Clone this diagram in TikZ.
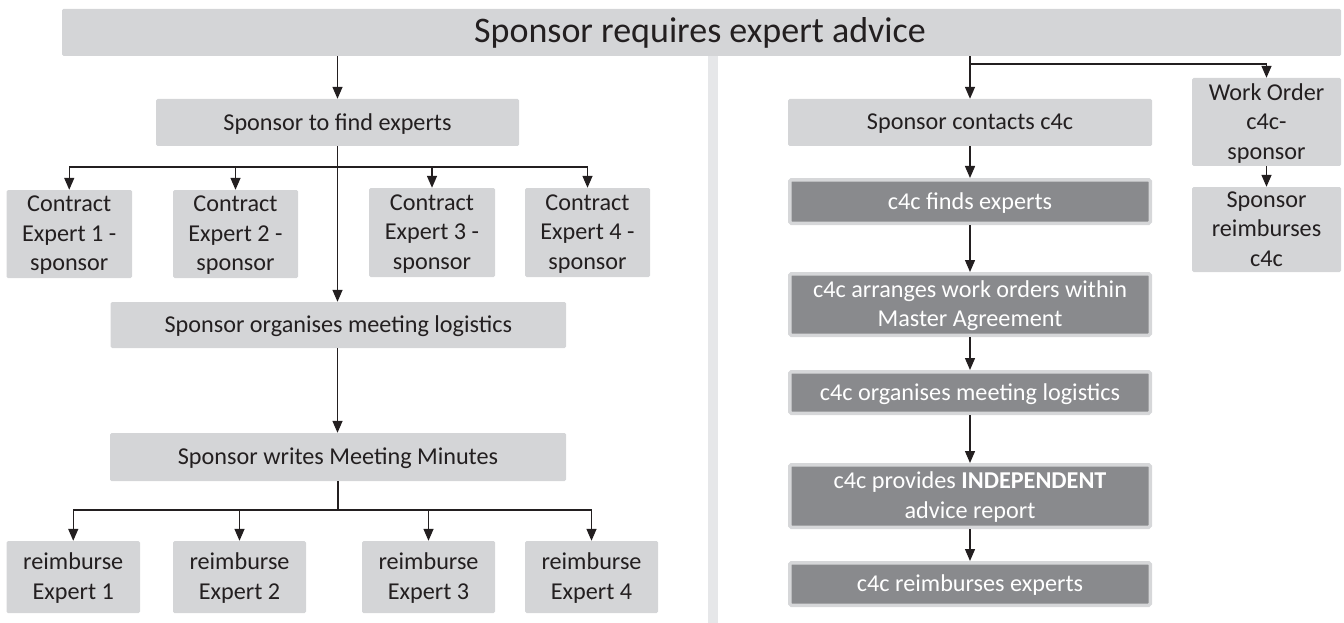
\documentclass[tikz,border=0pt]{standalone}
\usepackage{fontspec}
\setmainfont{Carlito}
\usetikzlibrary{arrows.meta}
\definecolor{boxgray}{HTML}{D4D5D7}
\definecolor{dkbox}{HTML}{898A8D}
\definecolor{lnbox}{HTML}{D6D7D9}
\definecolor{sepgray}{HTML}{E6E7E9}
\definecolor{ink}{HTML}{231F20}
\tikzset{
  basefont/.style={font=\fontsize{24.2}{29.5}\selectfont},
  lbox/.style={fill=boxgray, rounded corners=1.5pt, align=center, text=ink, inner sep=0pt, text depth=1.5pt, basefont},
  dbox/.style={fill=dkbox, draw=lnbox, line width=3.5pt, rounded corners=1.5pt, align=center, text=white, inner sep=0pt, text depth=1.5pt, basefont},
  arr/.style={draw=ink, line width=1.4pt, -{Triangle[length=12pt,width=10pt]}},
  ln/.style={draw=ink, line width=1.4pt},
}
\begin{document}
\begin{tikzpicture}[x=1pt,y=-1pt]
\useasboundingbox (0,0) rectangle (1344,623);
% separator
\fill[sepgray] (708,53) rectangle (718,623);
% title
\node[lbox, minimum width=1279pt, minimum height=47pt] (top) at (701.5,32.5) {};
\node[text=ink, font=\fontsize{36}{40}\selectfont, inner sep=0pt] (title) at (700,32.5) {Sponsor requires expert advice};
% left column
\node[lbox, minimum width=363pt, minimum height=47pt] (A) at (337.5,122.5) {Sponsor to find experts};
\node[lbox, minimum width=125.5pt, minimum height=88pt] (C1) at (69.25,234) {Contract\\Expert 1 -\\sponsor};
\node[lbox, minimum width=125pt, minimum height=88pt] (C2) at (235.5,234) {Contract\\Expert 2 -\\sponsor};
\node[lbox, minimum width=126pt, minimum height=89pt] (C3) at (432,232.5) {Contract\\Expert 3 -\\sponsor};
\node[lbox, minimum width=125pt, minimum height=89pt] (C4) at (587.5,232.5) {Contract\\Expert 4 -\\sponsor};
\node[lbox, minimum width=455.5pt, minimum height=46pt] (L) at (338.3,325) {Sponsor organises meeting logistics};
\node[lbox, minimum width=456pt, minimum height=48pt] (M) at (338,457) {Sponsor writes Meeting Minutes};
\node[lbox, minimum width=133.5pt, minimum height=72pt] (R1) at (73.25,577) {reimburse\\Expert 1};
\node[lbox, minimum width=133pt, minimum height=72pt] (R2) at (239.5,577) {reimburse\\Expert 2};
\node[lbox, minimum width=133pt, minimum height=72pt] (R3) at (428.5,577) {reimburse\\Expert 3};
\node[lbox, minimum width=133pt, minimum height=72pt] (R4) at (591.5,577) {reimburse\\Expert 4};
\coordinate (jA) at (338,167);
\coordinate (jM) at (338,510);
% right column
\node[lbox, minimum width=364pt, minimum height=47pt] (S) at (970,122.5) {Sponsor contacts c4c};
\node[dbox, minimum width=360.5pt, minimum height=43.5pt] (F) at (970,201.5) {c4c finds experts};
\node[dbox, minimum width=360.5pt, minimum height=61.5pt] (AR) at (970,304.5) {c4c arranges work orders within\\Master Agreement};
\node[dbox, minimum width=360.5pt, minimum height=41.5pt] (O) at (970,392.5) {c4c organises meeting logistics};
\node[dbox, minimum width=360.5pt, minimum height=62.5pt] (P) at (970,496) {c4c provides \textbf{INDEPENDENT}\\advice report};
\node[dbox, minimum width=360.5pt, minimum height=42.5pt] (RE) at (970,584) {c4c reimburses experts};
\node[lbox, minimum width=149pt, minimum height=88pt] (W) at (1266.5,122) {Work Order\\c4c-\\sponsor};
\node[lbox, minimum width=149pt, minimum height=85pt] (SR) at (1266.5,229.5) {Sponsor\\reimburses\\c4c};
\coordinate (jR) at (970,64);
% left connectors
\draw[arr] (A.north |- top.south) -- (A.north);
\draw[arr] (A.south) -- (A.south |- L.north);
\draw[ln] (C1.north |- jA) -- (C4.north |- jA);
\foreach \n in {C1,C2,C3,C4} \draw[arr] (\n.north |- jA) -- (\n.north);
\draw[arr] (L.south -| A.south) -- (A.south |- M.north);
\draw[ln] (M.south -| jM) -- (jM);
\draw[ln] (R1.north |- jM) -- (R4.north |- jM);
\foreach \n in {R1,R2,R3,R4} \draw[arr] (\n.north |- jM) -- (\n.north);
% right connectors
\draw[arr] (S.north |- top.south) -- (S.north);
\draw[arr] (jR) -| (W.north);
\draw[arr] (S.south) -- (F.north);
\draw[arr] (F.south) -- (AR.north);
\draw[arr] (AR.south) -- (O.north);
\draw[arr] (O.south) -- (P.north);
\draw[arr] (P.south) -- (RE.north);
\draw[arr] (W.south) -- (SR.north);
\end{tikzpicture}
\end{document}
